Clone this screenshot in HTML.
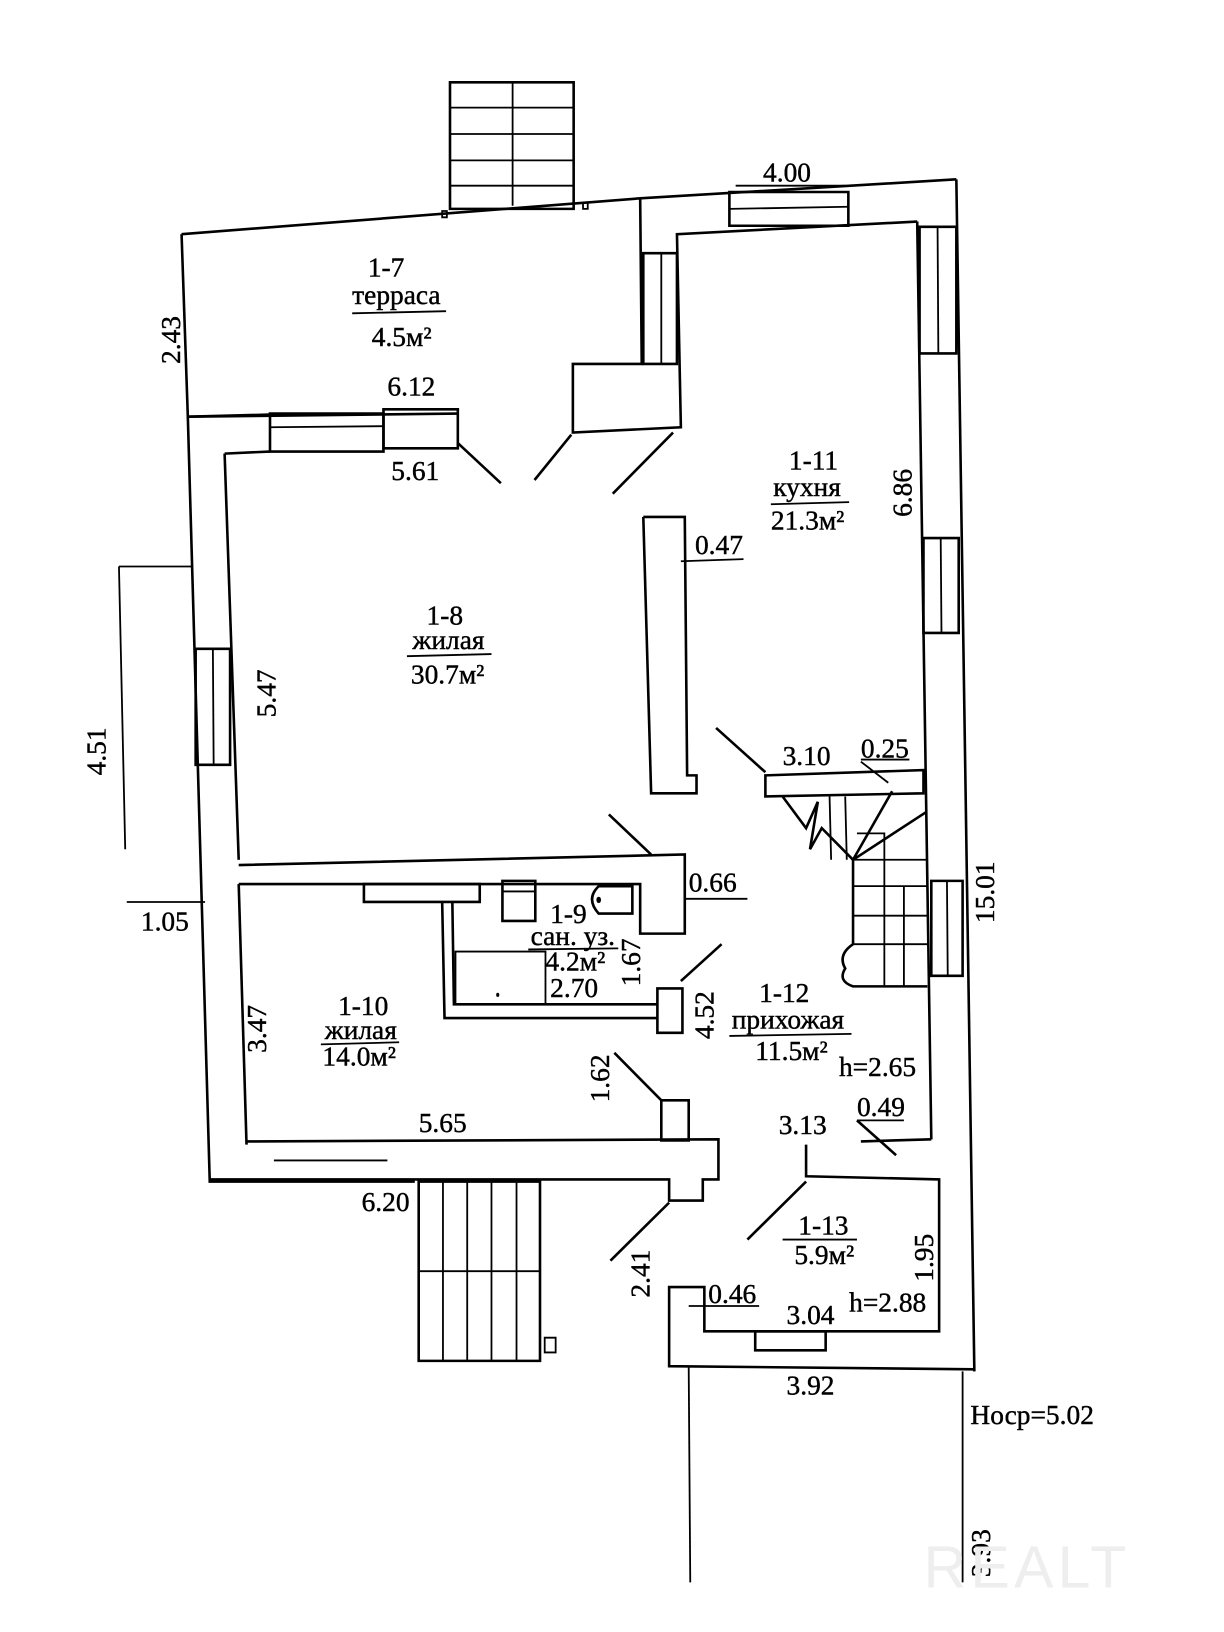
<!DOCTYPE html>
<html><head><meta charset="utf-8"><style>
html,body{margin:0;padding:0;background:#fff;}
svg{display:block;}
text{font-family:"Liberation Serif",serif;font-size:26px;fill:#000;stroke:#000;stroke-width:0.4;}
.l{stroke:#000;stroke-width:2.6;fill:none;vector-effect:non-scaling-stroke;}
.t{stroke:#000;stroke-width:1.8;fill:none;vector-effect:non-scaling-stroke;}
</style></head><body>
<svg width="1224" height="1632" viewBox="0 0 1564 1547" preserveAspectRatio="none" xmlns="http://www.w3.org/2000/svg">
<rect class="l" x="575" y="78" width="158" height="120"/>
<line class="t" x1="655" y1="78" x2="655" y2="195"/>
<line class="t" x1="575" y1="102" x2="733" y2="102"/>
<line class="t" x1="575" y1="127" x2="733" y2="127"/>
<line class="t" x1="575" y1="152" x2="733" y2="152"/>
<line class="t" x1="575" y1="176" x2="733" y2="176"/>
<polyline class="l" points="232,222 818,188 1222,170"/>
<rect class="t" x="565" y="200" width="6" height="6"/><rect class="t" x="745" y="192" width="6" height="6"/>
<polyline class="l" points="1222,170 1245,1300"/>
<polyline class="l" points="232,222 240,395 585,392"/>
<text transform="translate(470,262) scale(1.348,1)">1-7</text>
<text transform="translate(450,288) scale(1.348,1)">терраса</text>
<line class="t" x1="450" y1="297" x2="570" y2="295"/>
<text transform="translate(475,328) scale(1.348,1)">4.5м²</text>
<text transform="translate(230,345) scale(1.348,1) rotate(-90)">2.43</text>
<text transform="translate(495,375) scale(1.348,1)">6.12</text>
<polyline class="l" points="240,395 345,393"/>
<rect class="l" x="345" y="392" width="145" height="36"/>
<line class="t" x1="345" y1="405" x2="490" y2="404"/>
<rect class="l" x="490" y="388" width="95" height="37"/>
<polyline class="l" points="287,430 345,428"/>
<line class="l" x1="585" y1="420" x2="640" y2="458"/>
<line class="l" x1="730" y1="412" x2="683" y2="455"/>
<line class="l" x1="860" y1="410" x2="783" y2="468"/>
<text transform="translate(500,455) scale(1.348,1)">5.61</text>
<polyline class="l" points="818,188 820,345 732,345 732,410 870,405 865,222 1172,210"/>
<rect class="l" x="822" y="240" width="43" height="105"/>
<line class="t" x1="845" y1="240" x2="845" y2="345"/>
<rect class="l" x="932" y="182" width="152" height="32"/>
<line class="t" x1="932" y1="198" x2="1084" y2="196"/>
<text transform="translate(975,172) scale(1.348,1)">4.00</text>
<line class="t" x1="940" y1="176" x2="1080" y2="176"/>
<polyline class="l" points="1172,210 1190,1080"/>
<rect class="l" x="1175" y="215" width="47" height="120"/>
<line class="t" x1="1198" y1="215" x2="1199" y2="335"/>
<rect class="l" x="1180" y="510" width="45" height="90"/>
<line class="t" x1="1202" y1="510" x2="1203" y2="600"/>
<rect class="l" x="1190" y="835" width="40" height="90"/>
<line class="t" x1="1210" y1="835" x2="1211" y2="925"/>
<text transform="translate(1008,445) scale(1.348,1)">1-11</text>
<text transform="translate(988,470) scale(1.348,1)">кухня</text>
<line class="t" x1="985" y1="478" x2="1085" y2="476"/>
<text transform="translate(985,502) scale(1.348,1)">21.3м²</text>
<text transform="translate(1165,490) scale(1.348,1) rotate(-90)">6.86</text>
<polyline class="l" points="822,490 875,490 878,735 890,735 890,752 832,752 822,490"/>
<line class="t" x1="870" y1="532" x2="950" y2="530"/>
<text transform="translate(888,525) scale(1.348,1)">0.47</text>
<polyline class="l" points="240,395 268,1120 530,1120"/>
<polyline class="l" points="287,430 305,815"/>
<polyline class="l" points="305,838 315,1085"/>
<rect class="l" x="250" y="615" width="44" height="110"/>
<line class="t" x1="272" y1="615" x2="273" y2="725"/>
<text transform="translate(352,680) scale(1.348,1) rotate(-90)">5.47</text>
<line class="t" x1="152" y1="537" x2="245" y2="537"/>
<line class="t" x1="152" y1="537" x2="160" y2="805"/>
<text transform="translate(135,735) scale(1.348,1) rotate(-90)">4.51</text>
<line class="t" x1="162" y1="855" x2="262" y2="855"/>
<text transform="translate(180,882) scale(1.348,1)">1.05</text>
<text transform="translate(545,592) scale(1.348,1)">1-8</text>
<text transform="translate(527,615) scale(1.348,1)">жилая</text>
<line class="t" x1="520" y1="622" x2="628" y2="620"/>
<text transform="translate(525,648) scale(1.348,1)">30.7м²</text>
<polyline class="l" points="305,820 875,810 875,885 818,885 818,838 305,838"/>
<line class="l" x1="778" y1="772" x2="832" y2="810"/>
<line class="t" x1="875" y1="852" x2="955" y2="852"/>
<text transform="translate(880,845) scale(1.348,1)">0.66</text>
<rect class="l" x="465" y="838" width="148" height="17"/>
<polyline class="l" points="565,855 568,965 840,965"/>
<polyline class="l" points="578,855 580,952 840,952"/>
<rect class="l" x="642" y="835" width="42" height="38"/>
<line class="t" x1="642" y1="845" x2="684" y2="845"/>
<path class="l" d="M808 840 L765 840 Q748 852 765 866 L808 866 Z"/>
<circle cx="765" cy="853" r="3" fill="#000"/>
<rect class="t" x="582" y="902" width="115" height="50"/>
<circle cx="636" cy="943" r="2" fill="#000"/>
<text transform="translate(703,875) scale(1.348,1)">1-9</text>
<text transform="translate(678,896) scale(1.348,1)">сан. уз.</text>
<line class="t" x1="675" y1="900" x2="790" y2="899"/>
<text transform="translate(697,920) scale(1.348,1)">4.2м²</text>
<text transform="translate(703,945) scale(1.348,1)">2.70</text>
<text transform="translate(818,935) scale(1.348,1) rotate(-90)">1.67</text>
<rect class="l" x="840" y="937" width="32" height="42"/>
<line class="l" x1="870" y1="930" x2="922" y2="895"/>
<text transform="translate(912,985) scale(1.348,1) rotate(-90)">4.52</text>
<line class="l" x1="915" y1="690" x2="978" y2="732"/>
<polygon class="l" points="978,735 1180,730 1180,752 978,755"/>
<line class="t" x1="1100" y1="722" x2="1135" y2="742"/>
<text transform="translate(1000,725) scale(1.348,1)">3.10</text>
<text transform="translate(1100,718) scale(1.348,1)">0.25</text>
<line class="t" x1="1100" y1="720" x2="1162" y2="720"/>
<polyline class="l" points="1000,755 1030,785 1045,760 1035,805 1050,785 1090,815"/>
<line class="t" x1="1060" y1="755" x2="1062" y2="815"/>
<line class="t" x1="1080" y1="755" x2="1082" y2="815"/>
<line class="l" x1="1090" y1="815" x2="1140" y2="750"/>
<line class="l" x1="1090" y1="815" x2="1183" y2="770"/>
<polyline class="l" points="1090,815 1090,895"/>
<polyline class="t" points="1095,790 1130,790 1130,935"/>
<line class="t" x1="1090" y1="815" x2="1185" y2="815"/>
<line class="t" x1="1090" y1="840" x2="1185" y2="840"/>
<line class="t" x1="1090" y1="868" x2="1185" y2="868"/>
<line class="t" x1="1090" y1="895" x2="1185" y2="895"/>
<line class="t" x1="1155" y1="840" x2="1155" y2="935"/>
<path class="l" d="M1090 895 Q1070 905 1080 918 Q1070 930 1090 935 L1185 935"/>
<text transform="translate(1270,875) scale(1.348,1) rotate(-90)">15.01</text>
<text transform="translate(970,950) scale(1.348,1)">1-12</text>
<text transform="translate(935,975) scale(1.348,1)">прихожая</text>
<line class="t" x1="932" y1="982" x2="1088" y2="980"/>
<text transform="translate(965,1005) scale(1.348,1)">11.5м²</text>
<text transform="translate(1072,1020) scale(1.348,1)">h=2.65</text>
<text transform="translate(432,962) scale(1.348,1)">1-10</text>
<text transform="translate(415,985) scale(1.348,1)">жилая</text>
<line class="t" x1="410" y1="990" x2="510" y2="988"/>
<text transform="translate(412,1010) scale(1.348,1)">14.0м²</text>
<text transform="translate(340,998) scale(1.348,1) rotate(-90)">3.47</text>
<line class="l" x1="785" y1="998" x2="845" y2="1043"/>
<text transform="translate(778,1045) scale(1.348,1) rotate(-90)">1.62</text>
<rect class="l" x="845" y="1043" width="35" height="38"/>
<polyline class="l" points="315,1082 918,1080 918,1118 898,1118 898,1138 855,1138 855,1118 268,1118"/>
<line class="t" x1="350" y1="1100" x2="495" y2="1100"/>
<text transform="translate(535,1073) scale(1.348,1)">5.65</text>
<text transform="translate(462,1148) scale(1.348,1)">6.20</text>
<line class="l" x1="855" y1="1140" x2="780" y2="1195"/>
<text transform="translate(830,1230) scale(1.348,1) rotate(-90)">2.41</text>
<rect class="l" x="535" y="1120" width="155" height="170"/>
<line class="t" x1="566" y1="1120" x2="566" y2="1290"/>
<line class="t" x1="597" y1="1120" x2="597" y2="1290"/>
<line class="t" x1="628" y1="1120" x2="628" y2="1290"/>
<line class="t" x1="660" y1="1120" x2="660" y2="1290"/>
<line class="t" x1="535" y1="1205" x2="690" y2="1205"/>
<rect class="t" x="696" y="1268" width="14" height="14"/>
<polyline class="l" points="1190,1080 1100,1082"/>
<line class="l" x1="1095" y1="1062" x2="1145" y2="1095"/>
<text transform="translate(1095,1058) scale(1.348,1)">0.49</text>
<line class="t" x1="1095" y1="1062" x2="1155" y2="1062"/>
<text transform="translate(995,1075) scale(1.348,1)">3.13</text>
<polyline class="l" points="1030,1085 1030,1115 1200,1118 1200,1262 900,1262 900,1220 855,1220 855,1295 1245,1298"/>
<line class="l" x1="1030" y1="1120" x2="955" y2="1175"/>
<rect class="l" x="965" y="1262" width="90" height="18"/>
<line class="t" x1="880" y1="1238" x2="970" y2="1238"/>
<text transform="translate(905,1235) scale(1.348,1)">0.46</text>
<text transform="translate(1005,1255) scale(1.348,1)">3.04</text>
<text transform="translate(1085,1243) scale(1.348,1)">h=2.88</text>
<text transform="translate(1020,1170) scale(1.348,1)">1-13</text>
<line class="t" x1="1000" y1="1175" x2="1095" y2="1175"/>
<text transform="translate(1015,1198) scale(1.348,1)">5.9м²</text>
<text transform="translate(1192,1215) scale(1.348,1) rotate(-90)">1.95</text>
<text transform="translate(1005,1322) scale(1.348,1)">3.92</text>
<line class="t" x1="880" y1="1295" x2="882" y2="1500"/>
<line class="t" x1="1230" y1="1300" x2="1230" y2="1500"/>
<text transform="translate(1240,1350) scale(1.348,1)">Hоср=5.02</text>
<text transform="translate(1265,1495) scale(1.348,1) rotate(-90)">3.93</text>
<text transform="translate(1180,1505) scale(1.348,1)" style="font-size:56px;fill:#eeeeee;stroke:none;font-family:'Liberation Sans',sans-serif;letter-spacing:4px">REALT</text>
</svg>
</body></html>
